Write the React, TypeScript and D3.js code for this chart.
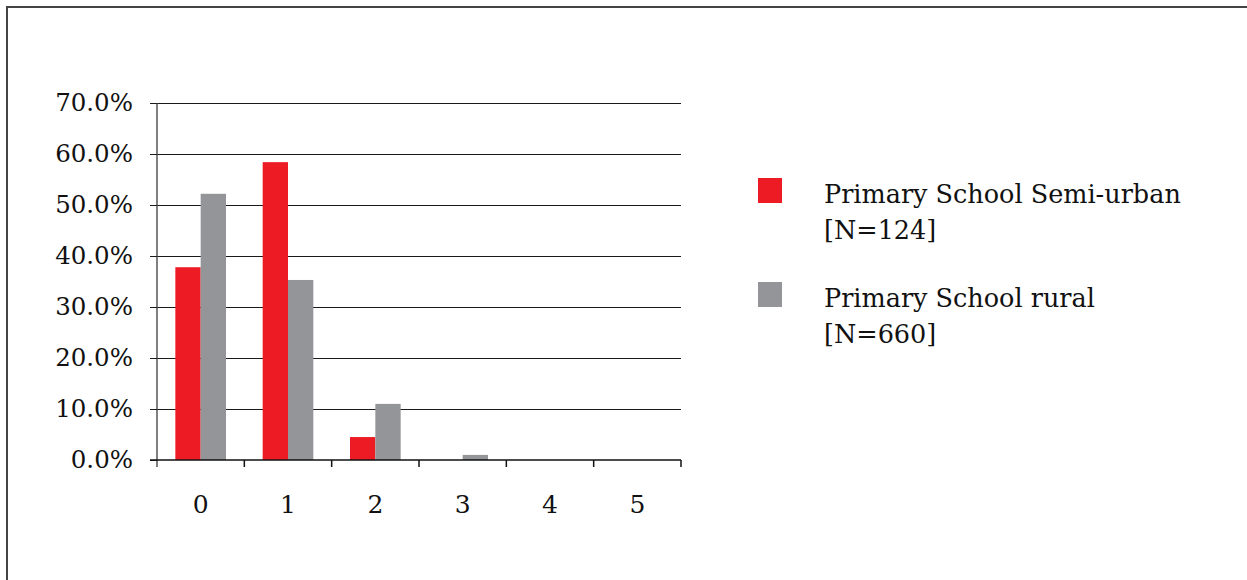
import React, { useEffect, useRef } from "react";
import * as d3 from "d3";

// chart data
const categories = ["0", "1", "2", "3", "4", "5"];
const seriesNames = ["Primary School Semi-urban", "Primary School rural"];
const seriesN = ["[N=124]", "[N=660]"];
const semiUrban = [37.8, 58.4, 4.5, 0, 0, 0];
const rural = [52.2, 35.3, 11.0, 1.0, 0, 0];
const yTicks = [0, 10, 20, 30, 40, 50, 60, 70];
const colors = ["#ED1C24", "#939598"];

const WIDTH = 1247;
const HEIGHT = 580;
const FONT = "DejaVu Serif";
const FS = 24.5;

const App = () => {
  const ref = useRef<SVGSVGElement>(null);

  useEffect(() => {
    const svg = d3.select(ref.current);
    svg.selectAll("*").remove();

    const margin = { left: 157, right: 681, top: 103, bottom: 460 };

    // outer frame (top + left edge only visible)
    svg
      .append("path")
      .attr("d", `M7,${HEIGHT} V7 H${WIDTH}`)
      .attr("fill", "none")
      .attr("stroke", "#444")
      .attr("stroke-width", 2);

    const x = d3
      .scaleBand<string>()
      .domain(categories)
      .range([margin.left, margin.right])
      .padding(0);

    const bw = x.bandwidth();
    const x1 = d3
      .scaleBand<number>()
      .domain([0, 1])
      .range([bw * 0.21, bw * 0.79]);

    const y = d3.scaleLinear().domain([0, 70]).range([margin.bottom, margin.top]);

    // gridlines
    svg
      .append("g")
      .attr("shape-rendering", "crispEdges")
      .selectAll("line")
      .data(yTicks.filter((t) => t > 0))
      .join("line")
      .attr("x1", margin.left)
      .attr("x2", margin.right)
      .attr("y1", (d) => y(d))
      .attr("y2", (d) => y(d))
      .attr("stroke", "#1a1a1a")
      .attr("stroke-width", 1);

    // bars
    const series = [semiUrban, rural];
    series.forEach((vals, si) => {
      svg
        .append("g")
        .selectAll("rect")
        .data(vals)
        .join("rect")
        .attr("x", (_, i) => (x(categories[i]) ?? 0) + (x1(si) ?? 0))
        .attr("width", x1.bandwidth())
        .attr("y", (d) => y(d))
        .attr("height", (d) => margin.bottom - y(d))
        .attr("fill", colors[si]);
    });

    // y axis
    const yAxis = svg
      .append("g")
      .attr("transform", `translate(${margin.left},0)`)
      .call(
        d3
          .axisLeft(y)
          .tickValues(yTicks)
          .tickSize(7)
          .tickPadding(17)
          .tickFormat((d) => `${(d as number).toFixed(1)}%`)
      );
    yAxis
      .select(".domain")
      .attr("stroke", "#555")
      .attr("stroke-width", 1.5)
      .attr("d", `M0,${margin.top}V${margin.bottom + 7}`);
    yAxis
      .selectAll(".tick line")
      .attr("stroke", "#1a1a1a")
      .attr("stroke-width", 1)
      .attr("shape-rendering", "crispEdges");
    yAxis
      .selectAll(".tick text")
      .attr("font-family", FONT)
      .attr("font-size", FS)
      .attr("fill", "#111");

    // x axis with ticks at category boundaries
    const xAxis = svg
      .append("g")
      .attr("transform", `translate(0,${margin.bottom})`);
    xAxis
      .append("line")
      .attr("x1", margin.left - 7)
      .attr("x2", margin.right)
      .attr("stroke", "#111")
      .attr("stroke-width", 1.5);
    xAxis
      .selectAll(".bnd")
      .data(categories)
      .join("line")
      .attr("class", "bnd")
      .attr("x1", (d) => (x(d) ?? 0) + bw)
      .attr("x2", (d) => (x(d) ?? 0) + bw)
      .attr("y1", 0)
      .attr("y2", 7)
      .attr("stroke", "#111")
      .attr("stroke-width", 1.5);
    xAxis
      .selectAll("text")
      .data(categories)
      .join("text")
      .attr("x", (d) => (x(d) ?? 0) + bw / 2)
      .attr("y", 53)
      .attr("text-anchor", "middle")
      .attr("font-family", FONT)
      .attr("font-size", 25)
      .attr("fill", "#111")
      .text((d) => d);

    // legend
    const legendY = d3.scalePoint<number>().domain([0, 1]).range([178, 282]);
    const lg = svg
      .append("g")
      .selectAll("g")
      .data(seriesNames)
      .join("g")
      .attr("transform", (_, i) => `translate(758,${legendY(i)})`);
    lg.append("rect")
      .attr("width", 24)
      .attr("height", 25)
      .attr("fill", (_, i) => colors[i]);
    const txt = lg
      .append("text")
      .attr("font-family", FONT)
      .attr("font-size", 25.5)
      .attr("fill", "#111");
    txt
      .append("tspan")
      .attr("x", 66)
      .attr("y", 25)
      .text((d) => d);
    txt
      .append("tspan")
      .attr("x", 66)
      .attr("y", 61)
      .text((_, i) => seriesN[i]);
  }, []);

  return (
    <svg
      ref={ref}
      width={WIDTH}
      height={HEIGHT}
      style={{ position: "absolute", left: 0, top: 0, background: "#fff" }}
    />
  );
};

export default App;
